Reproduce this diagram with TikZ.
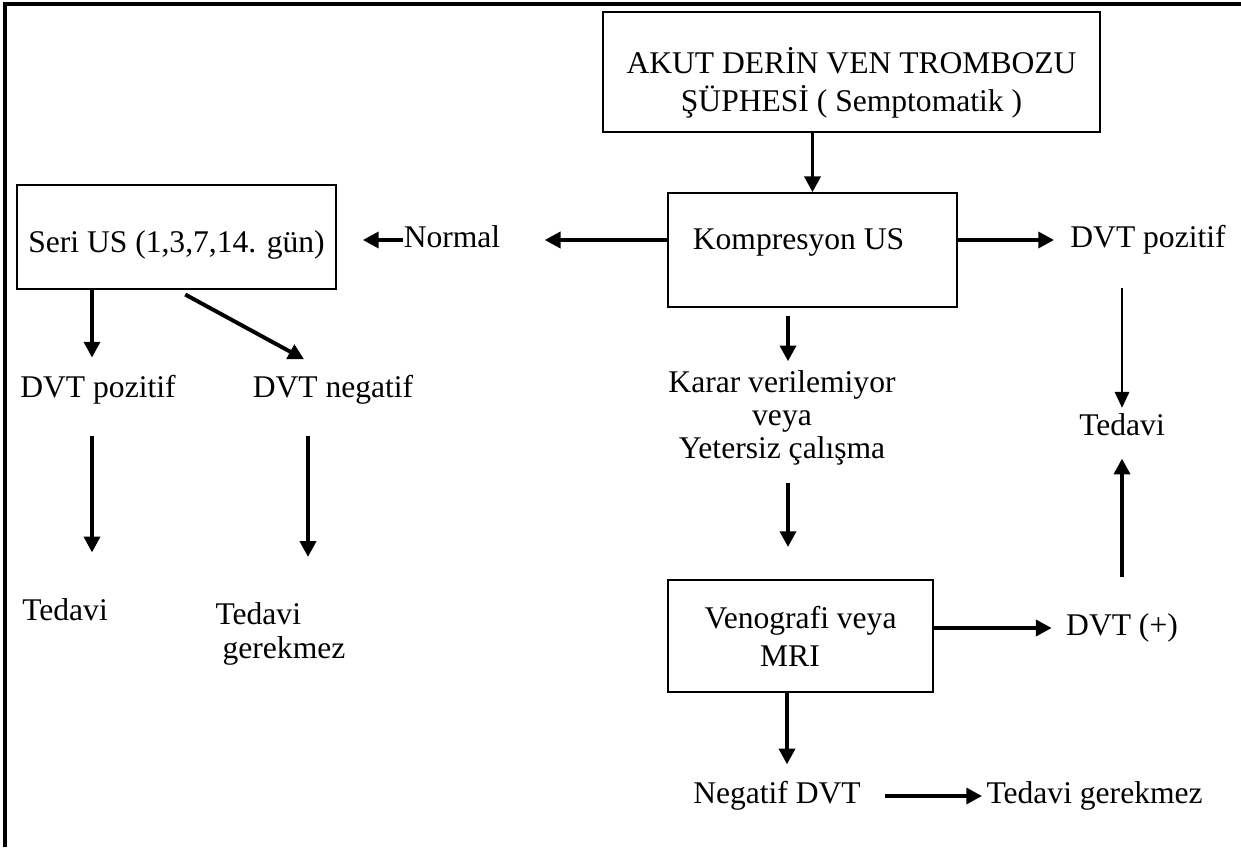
\documentclass[tikz,border=0pt]{standalone}
\usepackage{fontspec}
\setmainfont{Liberation Serif}
\usetikzlibrary{arrows.meta,positioning,calc}

\begin{document}
\begin{tikzpicture}[
  x=0.38pt,y=-0.38pt,
  every node/.style={font=\fontsize{12}{14.4}\selectfont},
  box/.style={draw,line width=0.6pt,inner sep=0pt,align=center},
  txt/.style={inner sep=0pt,text height=8.5pt,text depth=2.5pt},
  lines/.style={inner sep=0pt,align=center,font=\fontsize{12}{12.5}\selectfont},
  arr/.style={-{Triangle[width=6pt,length=6pt]},line width=1.5pt},
  thinarr/.style={-{Triangle[width=5.5pt,length=6pt]},line width=0.6pt},
  frame/.style={line width=1.3pt}
]
\useasboundingbox (0,0) rectangle (1241,847);
\draw[frame] (5,847) -- (5,4) -- (1241,4);

\node[box,minimum width=188.9pt,minimum height=45.6pt] (akut) at (851.5,72) {\rule{0pt}{18pt}AKUT DERİN VEN TROMBOZU\\ŞÜPHESİ ( Semptomatik )};
\node[box,minimum width=109.8pt,minimum height=43.3pt] (komp) at (812.5,250) {\rule[-8pt]{0pt}{8pt}Kompresyon US\hspace*{10.6pt}};
\node[box,minimum width=121.2pt,minimum height=39.5pt] (seri) at (176.5,237) {\rule{0pt}{14.3pt}Seri US (1,3,7,14. gün)};
\node[box,minimum width=100.7pt,minimum height=42.6pt] (veno) at (800.5,636) {Venografi veya\\MRI\hspace*{8pt}};

\node[txt] (normal) at (452,240) {Normal};
\node[txt] (dvtpR) at (1148,240) {DVT pozitif};
\node[txt] (tedaviR) at (1122,428) {Tedavi};
\node[txt] (dvtplus) at (1122,628) {DVT (+)};
\node[lines] (karar) at (782,418) {Karar verilemiyor\\veya\\Yetersiz çalışma};
\node[txt] (negdvt) at (777,796) {Negatif DVT};
\node[txt,anchor=west] (gerekR) at (986,796) {Tedavi gerekmez};
\node[txt] (dvtpL) at (98,390) {DVT pozitif};
\node[txt] (dvtneg) at (333,390) {DVT negatif};
\node[txt] (tedaviL) at (65,613) {Tedavi};
\node[lines,align=left,font=\fontsize{12}{12.9}\selectfont,anchor=north west] (gerekL) at (215,602) {Tedavi\\\hspace*{2.7pt}gerekmez};

\draw[arr] (akut.south -| komp.north) -- (komp.north);
\draw[arr,shorten >=16.7pt] (komp.west |- normal) -- (normal.east);
\draw[arr,shorten >=9.9pt] (normal.west) -- (seri.east |- normal);
\draw[arr,shorten >=6pt] (komp.east |- dvtpR) -- (dvtpR.west);
\draw[thinarr,shorten <=12.7pt,shorten >=2pt] (dvtpR.south -| tedaviR) -- (tedaviR.north);
\draw[arr,shorten <=13.5pt,shorten >=5.9pt] (dvtplus.north) -- (tedaviR.south);
\draw[arr,shorten <=3pt,shorten >=3.4pt] ($(komp.south -| karar)+(6,0)$) -- ($(karar.north)+(6,0)$);
\draw[arr,shorten <=6.5pt,shorten >=12.2pt] ($(karar.south)+(6,0)$) -- ($(veno.north -| karar)+(6,0)$);
\draw[arr,shorten >=5.3pt] (veno.east |- dvtplus) -- (dvtplus.west);
\draw[arr,shorten >=6.3pt] ($(veno.south -| karar)+(5,0)$) -- ($(negdvt.north -| karar)+(5,0)$);
\draw[arr,shorten <=9pt,shorten >=1.5pt] (negdvt.east) -- (gerekR.west);
\draw[arr,shorten >=6.6pt] ($(seri.south -| dvtpL)+(-6,0)$) -- ($(dvtpL.north)+(-6,0)$);
\draw[arr,shorten <=3.8pt,shorten >=12.5pt] (seri.south) -- (dvtneg.north);
\draw[arr,shorten <=11.6pt,shorten >=17.3pt] ($(dvtpL.south)+(-6,0)$) -- ($(dvtpL.south |- tedaviL.north)+(-6,0)$);
\draw[arr,shorten <=11.6pt,shorten >=17.1pt] ($(dvtneg.south)+(-25,0)$) -- ($(dvtneg.south |- gerekL.north)+(-25,0)$);
\end{tikzpicture}
\end{document}
